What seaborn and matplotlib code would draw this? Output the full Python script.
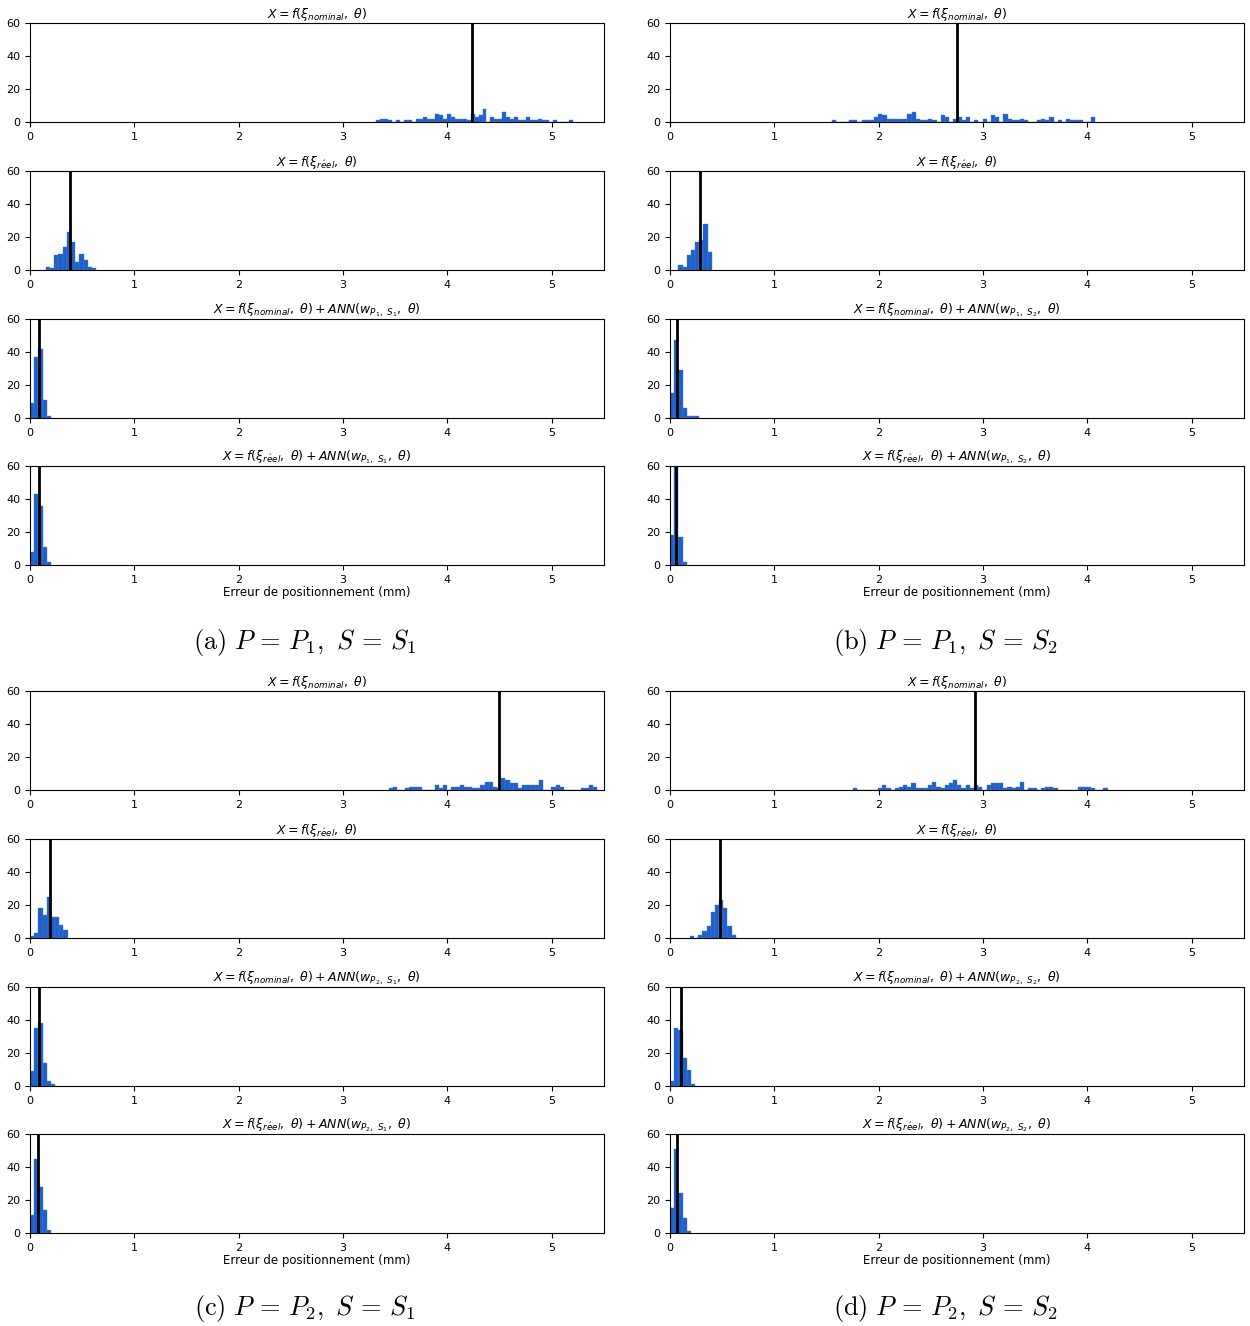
import numpy as np
import pandas as pd
import matplotlib
matplotlib.use("Agg")
import matplotlib.pyplot as plt
import seaborn as sns

# ---------------- data (histogram bin counts, 100 samples each) ----------------
BIN_W = 0.04

# (a) P = P1, S = S1
a1_start, a1_width = 3.318, 0.0377
a1_counts = [1, 2, 2, 1, 0, 1, 0, 1, 1, 0, 2, 2, 3, 2, 2, 5, 4, 2, 5, 3,
             2, 2, 2, 1, 5, 3, 4, 8, 0, 3, 2, 2, 6, 3, 2, 3, 1, 1, 3, 1,
             1, 2, 1, 1, 0, 1, 0, 0, 0, 1]
a1_line = 4.238
a2_start = 0.153
a2_counts = [2, 1, 9, 10, 14, 23, 17, 5, 10, 6, 2, 1]
a2_line = 0.386
a3_start = 0.0
a3_counts = [9, 37, 42, 11, 1]
a3_line = 0.086
a4_start = 0.0
a4_counts = [8, 43, 36, 11, 2]
a4_line = 0.086

# (b) P = P1, S = S2
b1_start = 1.555
b1_counts = [1, 0, 0, 0, 1, 1, 0, 1, 1, 1, 3, 5, 4, 2, 2, 2, 2, 2, 5, 6,
             2, 1, 1, 2, 1, 0, 4, 3, 0, 2, 3, 1, 3, 0, 1, 0, 2, 0, 4, 3,
             0, 5, 2, 1, 1, 2, 1, 0, 0, 1, 2, 1, 3, 0, 1, 0, 2, 1, 1, 1,
             0, 0, 3]
b1_line = 2.751
b2_start = 0.08
b2_counts = [3, 2, 9, 12, 17, 18, 28, 11]
b2_line = 0.285
b3_start = 0.0
b3_counts = [15, 47, 29, 6, 1, 1, 1]
b3_line = 0.064
b4_start = 0.0
b4_counts = [18, 63, 17, 2]
b4_line = 0.06

# (c) P = P2, S = S1
c1_start = 3.436
c1_counts = [1, 2, 0, 0, 1, 2, 2, 2, 0, 0, 0, 3, 1, 3, 0, 2, 2, 3, 2, 2,
             1, 1, 3, 5, 5, 2, 1, 7, 6, 4, 4, 1, 3, 3, 3, 3, 6, 0, 0, 2,
             3, 2, 0, 0, 0, 0, 1, 1, 3, 2]
c1_line = 4.49
c2_start = 0.0
c2_counts = [1, 3, 18, 14, 25, 13, 13, 8, 5]
c2_line = 0.19
c3_start = 0.0
c3_counts = [9, 35, 38, 14, 3, 1]
c3_line = 0.086
c4_start = 0.0
c4_counts = [11, 45, 28, 14, 2]
c4_line = 0.074

# (d) P = P2, S = S2
d1_start = 1.753
d1_counts = [1, 0, 0, 0, 0, 0, 1, 3, 1, 0, 1, 2, 3, 2, 4, 1, 1, 1, 3, 5,
             2, 1, 3, 4, 6, 3, 1, 3, 1, 3, 2, 0, 3, 4, 4, 4, 1, 2, 1, 2,
             5, 0, 1, 1, 0, 1, 2, 2, 1, 0, 0, 0, 0, 0, 2, 2, 2, 1, 0, 0, 1]
d1_line = 2.918
d2_start = 0.19
d2_counts = [1, 0, 2, 4, 7, 16, 20, 23, 18, 7, 2]
d2_line = 0.476
d3_start = 0.0
d3_counts = [3, 35, 34, 17, 10, 1]
d3_line = 0.103
d4_start = 0.0
d4_counts = [15, 51, 24, 9, 1]
d4_line = 0.07

x_ticks = [0, 1, 2, 3, 4, 5]
y_ticks = [0, 20, 40, 60]
xlabel = "Erreur de positionnement (mm)"
captions = [r"$\mathrm{(a)}\ P\,=\,P_1,\ S\,=\,S_1$",
            r"$\mathrm{(b)}\ P\,=\,P_1,\ S\,=\,S_2$",
            r"$\mathrm{(c)}\ P\,=\,P_2,\ S\,=\,S_1$",
            r"$\mathrm{(d)}\ P\,=\,P_2,\ S\,=\,S_2$"]
pidx = [("P_1", "S_1"), ("P_1", "S_2"), ("P_2", "S_1"), ("P_2", "S_2")]

# ---------------- figure ----------------
W, H = 1250, 1326
fig = plt.figure(figsize=(W / 100, H / 100), dpi=100)
BAR_COLOR = "#1f5fc8"

panels = [
    [(a1_start, a1_width, a1_counts, a1_line), (a2_start, BIN_W, a2_counts, a2_line),
     (a3_start, BIN_W, a3_counts, a3_line), (a4_start, BIN_W, a4_counts, a4_line)],
    [(b1_start, BIN_W, b1_counts, b1_line), (b2_start, BIN_W, b2_counts, b2_line),
     (b3_start, BIN_W, b3_counts, b3_line), (b4_start, BIN_W, b4_counts, b4_line)],
    [(c1_start, BIN_W, c1_counts, c1_line), (c2_start, BIN_W, c2_counts, c2_line),
     (c3_start, BIN_W, c3_counts, c3_line), (c4_start, BIN_W, c4_counts, c4_line)],
    [(d1_start, BIN_W, d1_counts, d1_line), (d2_start, BIN_W, d2_counts, d2_line),
     (d3_start, BIN_W, d3_counts, d3_line), (d4_start, BIN_W, d4_counts, d4_line)],
]

col_left = [30, 670, 30, 670]
row_tops = [[23, 171, 319, 466], [23, 171, 319, 466],
            [691, 839, 987, 1134], [691, 839, 987, 1134]]
ax_w, ax_h = 574, 99
cap_x = [305, 945, 305, 945]
cap_y = [642, 642, 1309, 1309]

for p in range(4):
    P, S = pidx[p]
    titles = [r"$X = f(\xi_{nominal},\ \theta)$",
              r"$X = f(\xi_{r\acute{e}el},\ \theta)$",
              r"$X = f(\xi_{nominal},\ \theta) + ANN(w_{%s,\ %s},\ \theta)$" % (P, S),
              r"$X = f(\xi_{r\acute{e}el},\ \theta) + ANN(w_{%s,\ %s},\ \theta)$" % (P, S)]
    for r in range(4):
        start, width, counts, line = panels[p][r]
        top = row_tops[p][r]
        ax = fig.add_axes([col_left[p] / W, 1 - (top + ax_h) / H, ax_w / W, ax_h / H])
        counts = np.asarray(counts, dtype=float)
        edges = start + width * np.arange(len(counts) + 1)
        centers = 0.5 * (edges[:-1] + edges[1:])
        df = pd.DataFrame({"err": centers, "n": counts})
        sns.histplot(data=df, x="err", weights="n", bins=list(edges), ax=ax,
                     color=BAR_COLOR, alpha=1.0, linewidth=0.3,
                     edgecolor="#4a80d8")
        ax.axvline(line, color="black", lw=2)
        ax.set_xlim(0, 5.5)
        ax.set_ylim(0, 60)
        ax.set_xticks(x_ticks)
        ax.set_yticks(y_ticks)
        ax.tick_params(labelsize=8, length=3.5)
        ax.set_ylabel("")
        ax.set_title(titles[r], fontsize=9, pad=2)
        if r == 3:
            ax.set_xlabel(xlabel, fontsize=8.5, labelpad=1)
        else:
            ax.set_xlabel("")
    fig.text(cap_x[p] / W, 1 - cap_y[p] / H, captions[p], ha="center", va="center",
             fontsize=19, math_fontfamily="cm")

fig.savefig("out.png", dpi=100)
